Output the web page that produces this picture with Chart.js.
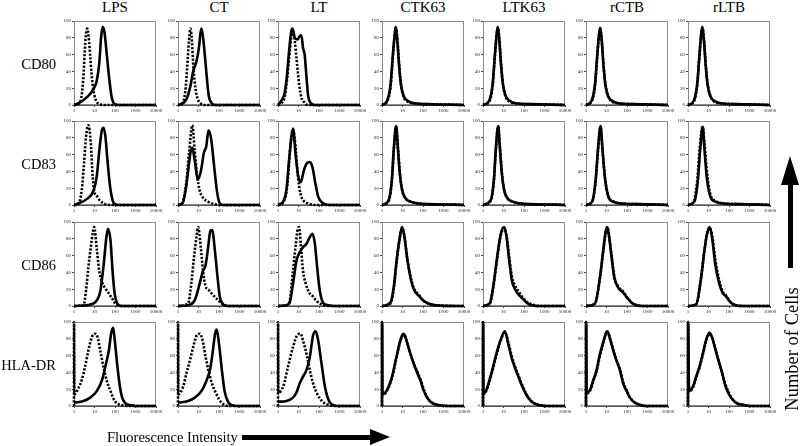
<!DOCTYPE html>
<html>
<head>
<meta charset="utf-8">
<script src="https://cdn.jsdelivr.net/npm/chart.js@4.4.1/dist/chart.umd.min.js"></script>
<style>
  html,body{margin:0;padding:0;background:#fff;}
  #wrap{position:relative;width:800px;height:446px;overflow:hidden;background:#fff;font-family:"Liberation Serif","Times New Roman",serif;color:#000;}
  canvas{position:absolute;}
  .lbl{position:absolute;white-space:nowrap;line-height:16px;}
  .hdr{font-size:15px;text-align:center;width:100px;}
  .row{font-size:14.5px;text-align:right;width:60px;}
  .bar{position:absolute;background:#000;}
</style>
</head>
<body>
<div id="wrap"></div>
<script>
// ---------------- DATA ----------------
// Categories
const treatments = ['LPS','CT','LT','CTK63','LTK63','rCTB','rLTB'];
const markers = ['CD80','CD83','CD86','HLA-DR'];
// Tick labels (x positions are log10 of fluorescence: 0..4)
const xTickPos = [0,1,2,3,4];
const xTickLabels = ['1','10','100','1000','10000'];
const yTickPos = [0,20,40,60,80,100];
const yTickLabels = ['0','20','40','60','80','100'];
// Axis titles
const xTitle = 'Fluorescence Intensity';
const yTitle = 'Number of Cells';

// Each curve: flat pairs [log10(fluorescence), % of max count, ...]
// "stain" = solid line, "ctrl" = dotted line
// ---- CD80 ----
const cd80_LPS_ctrl  = [0,0, 0.2,1, 0.35,8, 0.45,30, 0.52,62, 0.58,84, 0.65,91, 0.72,80, 0.8,55, 0.9,26, 1.0,11, 1.1,4, 1.25,1, 1.5,0, 4,0];
const cd80_LPS_stain = [0,0, 0.29,3, 0.62,9, 0.95,19, 1.11,29, 1.24,52, 1.32,80, 1.4,93, 1.49,86, 1.6,60, 1.73,29, 1.84,9, 2.0,1, 2.2,0, 4,0];
const cd80_CT_ctrl   = [0,0, 0.2,2, 0.35,15, 0.45,45, 0.53,75, 0.61,91, 0.68,75, 0.75,45, 0.85,20, 0.95,8, 1.1,2, 1.3,0, 4,0];
const cd80_CT_stain  = [0,0, 0.15,1, 0.3,3, 0.45,9, 0.6,22, 0.74,40, 0.9,52, 1.02,68, 1.1,86, 1.15,91, 1.26,72, 1.39,37, 1.5,11, 1.62,3, 1.8,0, 4,0];
const cd80_LT_ctrl   = [0,0, 0.16,2, 0.33,10, 0.44,30, 0.54,55, 0.65,82, 0.7,90, 0.76,86, 0.82,76, 0.9,56, 1.03,25, 1.14,9, 1.3,3, 1.45,0, 4,0];
const cd80_LT_stain  = [0,0, 0.16,5, 0.33,15, 0.44,36, 0.54,64, 0.65,88, 0.7,91, 0.82,80, 0.95,78, 1.06,82, 1.14,83, 1.22,68, 1.3,60, 1.39,33, 1.47,11, 1.58,3, 1.8,0, 4,0];
const cd80_CTK63_ctrl  = [0,0, 0.25,4, 0.42,22, 0.53,57, 0.62,83, 0.68,92, 0.76,75, 0.84,47, 0.93,24, 1.05,10, 1.25,4, 1.58,2, 2.25,1, 3.25,0.5, 4,0];
const cd80_CTK63_stain = [0,0, 0.25,5, 0.42,25, 0.53,60, 0.62,84, 0.67,93, 0.75,76, 0.83,48, 0.92,25, 1.05,11, 1.25,5, 1.58,2, 2.25,1, 3.25,0.5, 4,0];
const cd80_LTK63_ctrl  = [0,0, 0.3,4, 0.47,23, 0.58,58, 0.67,84, 0.73,92, 0.81,74, 0.89,46, 0.98,24, 1.1,10, 1.3,4, 1.6,2, 2.3,1, 3.3,0.5, 4,0];
const cd80_LTK63_stain = [0,0, 0.3,5, 0.47,25, 0.58,60, 0.67,85, 0.72,93, 0.8,76, 0.88,48, 0.97,25, 1.1,11, 1.3,5, 1.6,2, 2.3,1, 3.3,0.5, 4,0];
const cd80_rCTB_ctrl   = [0,0, 0.27,4, 0.44,23, 0.55,58, 0.64,84, 0.7,91, 0.78,74, 0.86,46, 0.95,24, 1.08,10, 1.28,4, 1.6,2, 2.3,1, 3.3,0.5, 4,0];
const cd80_rCTB_stain  = [0,0, 0.27,5, 0.44,25, 0.55,60, 0.64,85, 0.69,92, 0.77,76, 0.85,48, 0.94,25, 1.07,11, 1.27,5, 1.6,2, 2.3,1, 3.3,0.5, 4,0];
const cd80_rLTB_ctrl   = [0,0, 0.28,4, 0.45,24, 0.56,59, 0.65,85, 0.71,92, 0.79,75, 0.87,47, 0.96,25, 1.09,11, 1.29,4, 1.6,2, 2.3,1, 3.3,0.5, 4,0];
const cd80_rLTB_stain  = [0,0, 0.28,5, 0.45,25, 0.56,60, 0.65,86, 0.7,93, 0.78,76, 0.86,48, 0.95,25, 1.08,11, 1.28,5, 1.6,2, 2.3,1, 3.3,0.5, 4,0];
// ---- CD83 ----
const cd83_LPS_ctrl  = [0,0, 0.2,1, 0.38,18, 0.49,50, 0.59,82, 0.7,95, 0.82,74, 0.91,34, 0.99,16, 1.11,11, 1.27,5, 1.44,2, 1.76,0, 4,0];
const cd83_LPS_stain = [0,0, 0.13,1, 0.62,7, 0.95,17, 1.11,34, 1.24,66, 1.36,89, 1.44,92, 1.53,82, 1.63,54, 1.76,22, 1.89,5, 2.0,1, 2.2,0, 4,0];
const cd83_CT_ctrl   = [0,0, 0.2,2, 0.4,26, 0.54,62, 0.7,95, 0.81,66, 0.94,34, 1.05,18, 1.21,9, 1.46,4, 1.78,1, 2.1,0, 4,0];
const cd83_CT_stain  = [0,0, 0.24,3, 0.4,22, 0.54,50, 0.62,64, 0.7,68, 0.81,54, 0.97,30, 1.13,42, 1.26,62, 1.38,70, 1.49,89, 1.62,78, 1.78,42, 1.91,15, 2.02,3, 2.18,0, 4,0];
const cd83_LT_ctrl   = [0,0, 0.25,3, 0.41,15, 0.49,33, 0.6,69, 0.73,90, 0.87,65, 0.98,33, 1.09,14, 1.22,6, 1.47,2, 1.88,0, 4,0];
const cd83_LT_stain  = [0,0, 0.08,1, 0.25,4, 0.41,18, 0.54,53, 0.65,80, 0.73,91, 0.87,57, 0.98,35, 1.11,27, 1.26,41, 1.39,49, 1.55,51, 1.68,45, 1.8,29, 1.96,10, 2.2,2, 2.5,0, 4,0];
const cd83_CTK63_ctrl  = [0,0, 0.33,5, 0.49,31, 0.57,63, 0.69,93, 0.78,68, 0.88,36, 0.99,17, 1.15,8, 1.4,4, 2.2,1, 3.5,0.5, 4,0];
const cd83_CTK63_stain = [0,0, 0.33,6, 0.49,33, 0.57,65, 0.69,94, 0.77,69, 0.87,37, 0.98,18, 1.14,8, 1.39,4, 2.2,1, 3.5,0.5, 4,0];
const cd83_LTK63_ctrl  = [0,0, 0.38,5, 0.54,31, 0.62,63, 0.74,93, 0.83,68, 0.93,36, 1.04,17, 1.2,8, 1.45,4, 2.25,1, 3.5,0.5, 4,0];
const cd83_LTK63_stain = [0,0, 0.38,6, 0.54,33, 0.62,65, 0.74,94, 0.82,69, 0.92,37, 1.03,18, 1.19,8, 1.44,4, 2.25,1, 3.5,0.5, 4,0];
const cd83_rCTB_ctrl   = [0,0, 0.3,4, 0.47,28, 0.58,63, 0.71,93, 0.8,67, 0.93,32, 1.1,10, 1.34,4, 1.65,2, 2.5,1, 3.5,0.5, 4,0];
const cd83_rCTB_stain  = [0,0, 0.3,4, 0.47,30, 0.58,65, 0.71,94, 0.8,68, 0.92,33, 1.09,10, 1.33,4, 1.65,2, 2.5,1, 3.5,0.5, 4,0];
const cd83_rLTB_ctrl   = [0,0, 0.29,5, 0.46,32, 0.57,68, 0.71,93, 0.81,72, 0.94,36, 1.1,12, 1.34,5, 1.65,2, 2.5,1, 3.5,0.5, 4,0];
const cd83_rLTB_stain  = [0,0, 0.31,4, 0.48,29, 0.59,64, 0.72,93, 0.8,67, 0.92,32, 1.09,10, 1.33,4, 1.65,2, 2.5,1, 3.5,0.5, 4,0];
// ---- CD86 ----
const cd86_LPS_ctrl  = [0,0, 0.46,1, 0.59,19, 0.7,46, 0.82,70, 0.92,88, 0.98,94, 1.12,66, 1.23,42, 1.37,28, 1.53,21, 1.7,15, 1.86,9, 2.02,3, 2.27,0, 4,0];
const cd86_LPS_stain = [0,0, 0.62,1, 0.95,3, 1.12,7, 1.28,17, 1.45,50, 1.58,82, 1.66,92, 1.78,78, 1.88,42, 1.98,15, 2.11,3, 2.3,0, 4,0];
const cd86_CT_ctrl   = [0,0, 0.49,3, 0.65,27, 0.78,58, 0.9,82, 0.98,94, 1.11,70, 1.22,42, 1.34,24, 1.5,19, 1.71,13, 1.96,7, 2.2,2, 2.5,0, 4,0];
const cd86_CT_stain  = [0,0, 0.49,1, 0.82,7, 1.06,27, 1.22,42, 1.34,48, 1.47,70, 1.55,86, 1.6,90, 1.67,90, 1.8,66, 1.93,34, 2.04,11, 2.2,2, 2.4,0, 4,0];
const cd86_LT_ctrl   = [0,0, 0.41,1, 0.57,6, 0.73,42, 0.87,74, 0.95,90, 1.03,94, 1.11,74, 1.22,42, 1.36,26, 1.52,16, 1.68,12, 1.88,6, 2.12,2, 2.4,0, 4,0];
const cd86_LT_stain  = [0,0, 0.41,1, 0.57,4, 0.73,26, 0.9,54, 1.06,64, 1.22,70, 1.39,74, 1.55,82, 1.68,86, 1.8,74, 1.91,46, 2.04,18, 2.2,4, 2.45,1, 2.7,0, 4,0];
const cd86_CTK63_ctrl  = [0,0, 0.41,3, 0.57,20, 0.73,56, 0.87,81, 0.99,93, 1.11,80, 1.23,57, 1.4,34, 1.56,21, 1.8,13, 2.04,6, 2.37,2, 2.86,0.5, 4,0];
const cd86_CTK63_stain = [0,0, 0.41,4, 0.57,22, 0.73,58, 0.87,82, 0.98,94, 1.1,82, 1.22,58, 1.39,34, 1.55,20, 1.8,12, 2.04,6, 2.37,2, 2.86,0.5, 4,0];
const cd86_LTK63_ctrl  = [0,0, 0.33,3, 0.49,20, 0.69,56, 0.85,82, 1.03,93, 1.16,82, 1.29,56, 1.42,34, 1.57,24, 1.72,18, 1.88,12, 2.13,5, 2.37,2, 2.8,0, 4,0];
const cd86_LTK63_stain = [0,0, 0.33,3, 0.49,22, 0.69,58, 0.85,84, 1.03,94, 1.15,82, 1.28,54, 1.41,30, 1.56,20, 1.72,14, 1.88,10, 2.13,4, 2.37,1, 2.8,0, 4,0];
const cd86_rCTB_ctrl   = [0,0, 0.44,3, 0.68,33, 0.84,65, 0.97,89, 1.05,93, 1.14,81, 1.26,57, 1.39,34, 1.58,23, 1.82,17, 2.01,10, 2.23,4, 2.47,1, 2.8,0, 4,0];
const cd86_rCTB_stain  = [0,0, 0.44,3, 0.68,34, 0.84,66, 0.97,90, 1.04,94, 1.13,82, 1.25,58, 1.38,34, 1.57,22, 1.81,16, 2.0,10, 2.22,4, 2.46,1, 2.8,0, 4,0];
const cd86_rLTB_ctrl   = [0,0, 0.4,2, 0.63,32, 0.79,64, 0.93,86, 1.06,93, 1.18,84, 1.34,54, 1.5,33, 1.68,18, 1.84,13, 2.08,5, 2.32,1, 2.7,0, 4,0];
const cd86_rLTB_stain  = [0,0, 0.4,2, 0.64,34, 0.8,66, 0.93,86, 1.05,94, 1.17,82, 1.33,50, 1.49,30, 1.68,16, 1.84,12, 2.08,4, 2.32,1, 2.7,0, 4,0];
// ---- HLA-DR (first-channel pile-up at the left edge) ----
const hla_LPS_ctrl  = [0,0, 0.004,100, 0.02,14, 0.21,21, 0.38,31, 0.54,47, 0.7,66, 0.87,82, 1.04,86, 1.15,82, 1.28,66, 1.45,45, 1.61,29, 1.78,18, 1.94,8, 2.1,3, 2.35,1, 2.6,0, 4,0];
const hla_LPS_stain = [0,4, 0.46,6, 0.79,10, 1.12,18, 1.37,31, 1.53,47, 1.7,66, 1.81,86, 1.91,93, 1.99,78, 2.1,51, 2.24,23, 2.35,10, 2.52,3, 2.77,1, 3.0,0, 4,0];
const hla_CT_ctrl   = [0,0, 0.004,100, 0.02,14, 0.25,23, 0.41,39, 0.58,54, 0.74,70, 0.91,84, 1.07,86, 1.2,78, 1.35,58, 1.52,39, 1.68,25, 1.84,16, 2.0,8, 2.22,2, 2.5,0, 4,0];
const hla_CT_stain  = [0,4, 0.49,6, 0.82,10, 1.15,18, 1.4,31, 1.56,43, 1.68,62, 1.81,86, 1.89,91, 2.0,74, 2.14,43, 2.27,18, 2.44,5, 2.63,1, 2.9,0, 4,0];
const hla_LT_ctrl   = [0,0, 0.004,100, 0.02,16, 0.25,23, 0.49,47, 0.73,70, 0.93,84, 1.1,86, 1.22,78, 1.39,62, 1.55,43, 1.71,27, 1.88,16, 2.04,9, 2.29,3, 2.53,1, 2.8,0, 4,0];
const hla_LT_stain  = [0,5, 0.41,6, 0.73,10, 0.9,16, 1.06,27, 1.22,35, 1.39,43, 1.55,58, 1.71,84, 1.84,89, 1.96,78, 2.12,51, 2.29,23, 2.45,8, 2.61,2, 2.9,0, 4,0];
const hla_CTK63_ctrl  = [0,0, 0.004,100, 0.02,13, 0.24,18, 0.49,34, 0.7,57, 0.87,75, 0.98,83, 1.07,85, 1.23,75, 1.4,61, 1.56,50, 1.72,41, 1.89,31, 2.05,19, 2.21,10, 2.38,5, 2.6,2, 2.9,0.5, 3.2,0, 4,0];
const hla_CTK63_stain = [0,0, 0.004,100, 0.02,14, 0.24,19, 0.49,35, 0.7,58, 0.87,76, 0.98,84, 1.06,86, 1.22,76, 1.39,62, 1.55,50, 1.71,40, 1.88,30, 2.04,18, 2.2,10, 2.37,5, 2.6,2, 2.9,0.5, 3.2,0, 4,0];
const hla_LTK63_ctrl  = [0,0, 0.004,100, 0.02,14, 0.16,18, 0.41,37, 0.65,60, 0.85,77, 1.07,88, 1.24,75, 1.4,60, 1.56,47, 1.72,37, 1.91,25, 2.1,15, 2.3,7, 2.5,3, 2.8,1, 3.1,0, 4,0];
const hla_LTK63_stain = [0,0, 0.004,100, 0.02,15, 0.16,19, 0.41,39, 0.65,62, 0.85,78, 1.07,89, 1.23,74, 1.39,58, 1.55,46, 1.71,36, 1.9,24, 2.1,14, 2.3,7, 2.5,3, 2.8,1, 3.1,0, 4,0];
const hla_rCTB_ctrl   = [0,0, 0.004,100, 0.03,15, 0.19,18, 0.36,30, 0.52,42, 0.68,60, 0.84,75, 0.96,85, 1.05,88, 1.18,80, 1.34,66, 1.5,54, 1.66,43, 1.82,28, 1.99,18, 2.15,10, 2.39,4, 2.7,1, 3.0,0, 4,0];
const hla_rCTB_stain  = [0,0, 0.004,100, 0.03,16, 0.19,19, 0.36,31, 0.52,43, 0.68,62, 0.84,76, 0.96,86, 1.04,89, 1.17,80, 1.33,66, 1.49,54, 1.65,43, 1.81,27, 1.98,18, 2.14,10, 2.38,4, 2.7,1, 3.0,0, 4,0];
const hla_rLTB_ctrl   = [0,0, 0.004,100, 0.05,17, 0.24,22, 0.4,34, 0.56,46, 0.72,61, 0.88,77, 1.05,86, 1.18,81, 1.34,67, 1.5,53, 1.66,40, 1.82,26, 2.01,15, 2.17,8, 2.41,3, 2.8,1, 3.1,0, 4,0];
const hla_rLTB_stain  = [0,0, 0.004,100, 0.05,18, 0.24,23, 0.4,35, 0.56,47, 0.72,62, 0.88,78, 1.04,87, 1.17,82, 1.33,68, 1.49,54, 1.65,41, 1.81,25, 2.0,14, 2.16,8, 2.4,3, 2.8,1, 3.1,0, 4,0];

const grid = [
  [[cd80_LPS_stain,cd80_LPS_ctrl],[cd80_CT_stain,cd80_CT_ctrl],[cd80_LT_stain,cd80_LT_ctrl],[cd80_CTK63_stain,cd80_CTK63_ctrl],[cd80_LTK63_stain,cd80_LTK63_ctrl],[cd80_rCTB_stain,cd80_rCTB_ctrl],[cd80_rLTB_stain,cd80_rLTB_ctrl]],
  [[cd83_LPS_stain,cd83_LPS_ctrl],[cd83_CT_stain,cd83_CT_ctrl],[cd83_LT_stain,cd83_LT_ctrl],[cd83_CTK63_stain,cd83_CTK63_ctrl],[cd83_LTK63_stain,cd83_LTK63_ctrl],[cd83_rCTB_stain,cd83_rCTB_ctrl],[cd83_rLTB_stain,cd83_rLTB_ctrl]],
  [[cd86_LPS_stain,cd86_LPS_ctrl],[cd86_CT_stain,cd86_CT_ctrl],[cd86_LT_stain,cd86_LT_ctrl],[cd86_CTK63_stain,cd86_CTK63_ctrl],[cd86_LTK63_stain,cd86_LTK63_ctrl],[cd86_rCTB_stain,cd86_rCTB_ctrl],[cd86_rLTB_stain,cd86_rLTB_ctrl]],
  [[hla_LPS_stain,hla_LPS_ctrl],[hla_CT_stain,hla_CT_ctrl],[hla_LT_stain,hla_LT_ctrl],[hla_CTK63_stain,hla_CTK63_ctrl],[hla_LTK63_stain,hla_LTK63_ctrl],[hla_rCTB_stain,hla_rCTB_ctrl],[hla_rLTB_stain,hla_rLTB_ctrl]]
];

// ---------------- LAYOUT ----------------
const colLeft = [74,178,278,382,483,586,688];
const rowTop = [20,120,221,321];
const PW = 82, PH = 85;
const PADL = 16, PADT = 3, PADR = 9, PADB = 13;

const wrap = document.getElementById('wrap');
function toPts(a){ const p=[]; for(let i=0;i<a.length;i+=2) p.push({x:a[i],y:a[i+1]}); return p; }

const boxPlugin = {
  id:'box',
  beforeDatasetsDraw(chart){
    const a = chart.chartArea, ctx = chart.ctx;
    ctx.save(); ctx.strokeStyle='#8a8a8a'; ctx.lineWidth=1;
    ctx.strokeRect(a.left+0.5, a.top+0.5, a.right-a.left-1, a.bottom-a.top-1);
    ctx.restore();
  }
};

function makePanel(r,c){
  const cv = document.createElement('canvas');
  const W = PW+PADL+PADR, H = PH+PADT+PADB;
  cv.width=W; cv.height=H;
  cv.style.left=(colLeft[c]-PADL)+'px'; cv.style.top=(rowTop[r]-PADT)+'px';
  cv.style.width=W+'px'; cv.style.height=H+'px';
  wrap.appendChild(cv);
  const [stain, ctrl] = grid[r][c];
  new Chart(cv, {
    type:'line',
    data:{datasets:[
      {data:toPts(ctrl), borderColor:'#000', borderWidth:2.6, borderDash:[2.2,1.6], pointRadius:0, fill:false, cubicInterpolationMode:'monotone', borderCapStyle:'butt', clip:3},
      {data:toPts(stain), borderColor:'#000', borderWidth:2.6, pointRadius:0, fill:false, cubicInterpolationMode:'monotone', clip:3}
    ]},
    options:{
      responsive:false, animation:false, events:[], devicePixelRatio:1,
      plugins:{legend:{display:false}, tooltip:{enabled:false}},
      layout:{padding:{left:0,top:PADT,right:PADR,bottom:0}},
      scales:{
        x:{type:'linear', min:0, max:4,
           afterBuildTicks:s=>{ s.ticks = xTickPos.map(v=>({value:v})); },
           afterFit:s=>{ s.height = PADB; },
           ticks:{callback:(v,i)=>xTickLabels[i], font:{size:5, family:'Liberation Serif'}, color:'#222', maxRotation:0, autoSkip:false, padding:1},
           grid:{drawOnChartArea:false, drawTicks:true, tickLength:2, color:'#444'},
           border:{display:true, color:'#555', width:1}},
        y:{type:'linear', min:0, max:100,
           afterBuildTicks:s=>{ s.ticks = yTickPos.map(v=>({value:v})); },
           afterFit:s=>{ s.width = PADL; },
           ticks:{callback:(v,i)=>yTickLabels[i], font:{size:5, family:'Liberation Serif'}, color:'#222', autoSkip:false, padding:1},
           grid:{drawOnChartArea:false, drawTicks:true, tickLength:2, color:'#444'},
           border:{display:true, color:'#555', width:1}}
      }
    },
    plugins:[boxPlugin]
  });
}

for(let r=0;r<4;r++) for(let c=0;c<7;c++) makePanel(r,c);

// ---------------- TEXT ----------------
function addText(txt, cls, left, top, extra){
  const d=document.createElement('div'); d.className='lbl '+cls; d.textContent=txt;
  d.style.left=left+'px'; d.style.top=top+'px';
  if(extra) Object.assign(d.style, extra);
  wrap.appendChild(d); return d;
}
treatments.forEach((t,c)=> addText(t,'hdr', colLeft[c]+PW/2-50, -1));
markers.forEach((m,r)=> addText(m,'row', -4, rowTop[r]+PH/2-7));
addText(xTitle,'', 107, 429, {fontSize:'14.5px'});
addText(yTitle,'', 792, 349, {fontSize:'18.5px', transform:'translate(-50%,-50%) rotate(-90deg)'});

// ---------------- ARROWS ----------------
function bar(l,t,w,h){ const d=document.createElement('div'); d.className='bar'; Object.assign(d.style,{left:l+'px',top:t+'px',width:w+'px',height:h+'px'}); wrap.appendChild(d); }
bar(242,434.5,130,5);
const hx=document.createElement('div'); Object.assign(hx.style,{position:'absolute',left:'370px',top:'429px',width:0,height:0,borderTop:'8px solid transparent',borderBottom:'8px solid transparent',borderLeft:'20px solid #000'}); wrap.appendChild(hx);
bar(788,184,5,84);
const hy=document.createElement('div'); Object.assign(hy.style,{position:'absolute',left:'781px',top:'156px',width:0,height:0,borderLeft:'9.5px solid transparent',borderRight:'9.5px solid transparent',borderBottom:'29px solid #000'}); wrap.appendChild(hy);
</script>
</body>
</html>
